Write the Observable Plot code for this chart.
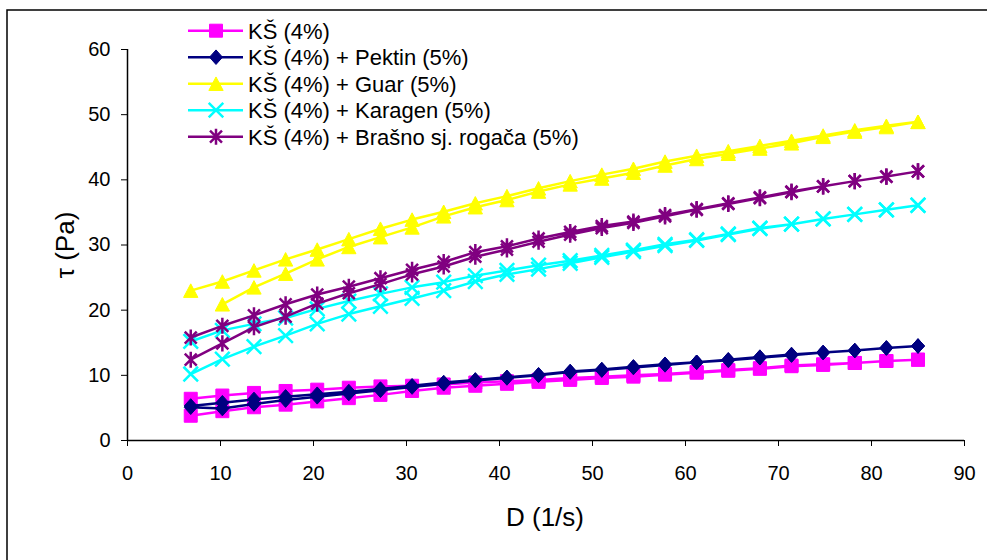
<!DOCTYPE html>
<html><head><meta charset="utf-8">
<script src="https://cdn.jsdelivr.net/npm/d3@7"></script>
<script src="https://cdn.jsdelivr.net/npm/@observablehq/plot@0.6"></script>
<style>html,body{margin:0;padding:0;background:#fff;} #chart{width:987px;height:560px;}</style>
</head><body><div id="chart"></div>
<script>
// Shear rate D (1/s)
const shearRate = [6.8, 10.2, 13.6, 17, 20.4, 23.8, 27.2, 30.6, 34, 37.4, 40.8, 44.2, 47.6, 51, 54.4, 57.8, 61.2, 64.6, 68, 71.4, 74.8, 78.2, 81.6, 85];

// Shear stress tau (Pa): upper and lower branch of each loop
const ksUp    = [6.4, 6.9, 7.3, 7.6, 7.8, 8.1, 8.3, 8.4, 8.6, 8.9, 9.1, 9.3, 9.6, 9.8, 10.0, 10.2, 10.5, 10.8, 11.1, 11.5, 11.7, 11.9, 12.2, 12.4];
const ksDown  = [3.8, 4.5, 5.1, 5.5, 6.0, 6.5, 7.0, 7.6, 8.1, 8.4, 8.7, 9.0, 9.3, 9.6, 9.8, 10.1, 10.4, 10.7, 11.0, 11.4, 11.6, 11.9, 12.2, 12.4];
const pekUp   = [5.3, 5.8, 6.3, 6.7, 7.1, 7.5, 7.9, 8.4, 8.9, 9.3, 9.7, 10.1, 10.6, 10.9, 11.3, 11.7, 12.0, 12.4, 12.8, 13.2, 13.5, 13.8, 14.2, 14.5];
const pekDown = [5.1, 4.9, 5.6, 6.2, 6.7, 7.2, 7.7, 8.2, 8.7, 9.2, 9.6, 10.0, 10.5, 10.8, 11.2, 11.6, 12.0, 12.3, 12.7, 13.1, 13.5, 13.8, 14.2, 14.5];
const guarUp   = [23.0, 24.4, 26.1, 27.8, 29.3, 30.9, 32.5, 33.9, 35.1, 36.4, 37.5, 38.7, 39.8, 40.8, 41.7, 42.8, 43.7, 44.4, 45.2, 46.0, 46.8, 47.6, 48.3, 48.9];
const guarDown = [null, 20.9, 23.5, 25.6, 27.8, 29.7, 31.2, 32.7, 34.4, 35.8, 36.9, 38.2, 39.3, 40.2, 41.1, 42.2, 43.2, 44.0, 44.8, 45.6, 46.6, 47.4, 48.1, 48.9];
const karUp   = [15.2, 16.9, 17.9, 18.8, 20.2, 21.4, 22.5, 23.5, 24.3, 25.3, 26.1, 26.9, 27.6, 28.4, 29.2, 30.1, 30.8, 31.7, 32.6, 33.2, 34.0, 34.7, 35.4, 36.1];
const karDown = [10.2, 12.5, 14.4, 16.1, 17.9, 19.4, 20.6, 21.8, 23.0, 24.4, 25.5, 26.3, 27.2, 28.1, 29.0, 29.9, 30.7, 31.6, 32.5, 33.2, 34.0, 34.7, 35.4, 36.1];
const brUp    = [15.8, 17.6, 19.2, 20.9, 22.4, 23.6, 24.9, 26.2, 27.4, 28.9, 29.8, 31.0, 32.0, 32.9, 33.6, 34.6, 35.5, 36.4, 37.3, 38.2, 39.0, 39.8, 40.5, 41.3];
const brDown  = [12.4, 14.9, 17.4, 19.0, 21.0, 22.6, 24.0, 25.5, 26.7, 28.2, 29.3, 30.5, 31.6, 32.6, 33.4, 34.4, 35.4, 36.3, 37.2, 38.1, 39.0, 39.8, 40.5, 41.3];

const seriesNames = ["KŠ (4%)", "KŠ (4%) + Pektin (5%)", "KŠ (4%) + Guar (5%)", "KŠ (4%) + Karagen (5%)", "KŠ (4%) + Brašno sj. rogača (5%)"];
const seriesColors = ["#FF00FF", "#000080", "#FFFF00", "#00FFFF", "#800080"];
const xTicks = [0, 10, 20, 30, 40, 50, 60, 70, 80, 90];
const yTicks = [0, 10, 20, 30, 40, 50, 60];
const xTitle = "D (1/s)";
const yTitle = "τ (Pa)";

const FONT = "'Liberation Sans', Arial, Helvetica, sans-serif";

// marker shapes
const symSquare = {draw(c, size) { const h = Math.sqrt(size) / 2; c.moveTo(-h, -h); c.lineTo(h, -h); c.lineTo(h, h); c.lineTo(-h, h); c.closePath(); }};
const symDiamond = {draw(c, size) { const s = Math.sqrt(size), a = s * 0.5, b = s * 0.56; c.moveTo(0, -b); c.lineTo(a, 0); c.lineTo(0, b); c.lineTo(-a, 0); c.closePath(); }};
const symTriangle = {draw(c, size) { const s = Math.sqrt(size), w = s * 0.55, h = s * 0.52; c.moveTo(0, -h); c.lineTo(w, h); c.lineTo(-w, h); c.closePath(); }};
const symTimes = {draw(c, size) { const a = Math.sqrt(size) * 0.56; c.moveTo(-a, -a); c.lineTo(a, a); c.moveTo(-a, a); c.lineTo(a, -a); }};
const symStar = {draw(c, size) { const s = Math.sqrt(size), v = s * 0.62, a = s * 0.46; c.moveTo(0, -v); c.lineTo(0, v); c.moveTo(-a, -a); c.lineTo(a, a); c.moveTo(-a, a); c.lineTo(a, -a); }};
const symbols = [symSquare, symDiamond, symTriangle, symTimes, symStar];
const filled = [true, true, true, false, false];
const R = Math.sqrt(169 / Math.PI);

const ups = [ksUp, pekUp, guarUp, karUp, brUp];
const downs = [ksDown, pekDown, guarDown, karDown, brDown];

const rows = [];
seriesNames.forEach((name, k) => {
  shearRate.forEach((x, i) => { if (ups[k][i] != null) rows.push({series: name, x, y: ups[k][i]}); });
  for (let i = shearRate.length - 1; i >= 0; i--) {
    if (downs[k][i] != null) rows.push({series: name, x: shearRate[i], y: downs[k][i]});
  }
});

const seriesMarks = [];
seriesNames.forEach((name, k) => {
  const d = rows.filter(r => r.series === name);
  const col = seriesColors[k];
  seriesMarks.push(Plot.line(d, {x: "x", y: "y", stroke: col, strokeWidth: 2.5}));
  seriesMarks.push(Plot.dot(d, {x: "x", y: "y", symbol: symbols[k], r: R,
    fill: filled[k] ? col : "none", stroke: col, strokeWidth: filled[k] ? 1 : 2.5}));
});

const plot = Plot.plot({
  width: 987, height: 560,
  marginLeft: 127, marginRight: 23, marginTop: 49, marginBottom: 120,
  style: {fontFamily: FONT, fontSize: "20px", color: "#000", background: "#fff", overflow: "visible"},
  x: {domain: [0, 90]},
  y: {domain: [0, 60]},
  marks: [
    Plot.axisX({ticks: xTicks, tickSize: 6, tickPadding: 19, label: null, fontSize: 20, tickFormat: d => String(d)}),
    Plot.axisY({ticks: yTicks, tickSize: 6, tickPadding: 11, label: null, fontSize: 20, tickFormat: d => String(d)}),
    ...seriesMarks,
    Plot.ruleX([0], {stroke: "#000", strokeWidth: 1.5}),
    Plot.ruleY([0], {stroke: "#000", strokeWidth: 1.5})
  ]
});

document.getElementById("chart").appendChild(plot);

const svg = d3.select(plot);
// outer frame (left and top edges visible)
svg.append("path").attr("d", "M7,560V10H987").attr("fill", "none").attr("stroke", "#000").attr("stroke-width", 1.5);

// axis titles
svg.append("text").attr("x", 545).attr("y", 526).attr("text-anchor", "middle")
  .attr("font-family", FONT).attr("font-size", 26).attr("fill", "#000").text(xTitle);
svg.append("text").attr("transform", "translate(74,245) rotate(-90)").attr("text-anchor", "middle")
  .attr("font-family", FONT).attr("font-size", 26).attr("fill", "#000").text(yTitle);

// legend
const lg = svg.append("g").attr("text-anchor", "start");
seriesNames.forEach((name, k) => {
  const cy = 30.7 + 26.5 * k;
  const col = seriesColors[k];
  lg.append("line").attr("x1", 188).attr("x2", 243).attr("y1", cy).attr("y2", cy).attr("stroke", col).attr("stroke-width", 2.5);
  lg.append("path").attr("transform", `translate(216,${cy})`)
    .attr("d", d3.symbol().type(symbols[k]).size(169)())
    .attr("fill", filled[k] ? col : "none").attr("stroke", col).attr("stroke-width", filled[k] ? 1 : 2.5);
  lg.append("text").attr("x", 248).attr("y", cy).attr("dy", "0.36em").attr("text-anchor", "start")
    .attr("font-family", FONT).attr("font-size", 22).attr("fill", "#000").text(name);
});
</script>
</body></html>
